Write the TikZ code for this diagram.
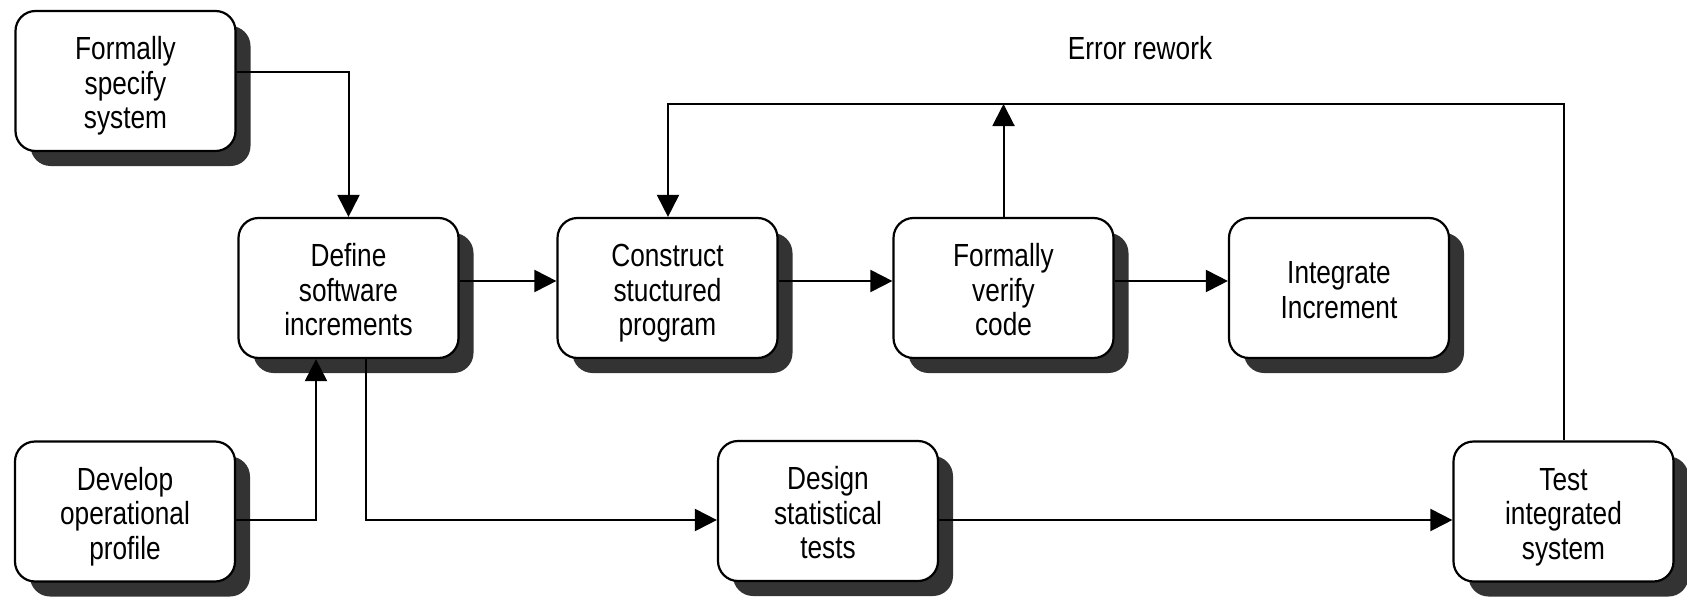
\documentclass[tikz,border=0pt]{standalone}
\usepackage{fontspec}
\setmainfont[FakeStretch=0.82]{Liberation Sans}
\usetikzlibrary{arrows.meta,shadows}
\definecolor{shadowgray}{HTML}{333333}
\newcommand{\boxtext}[1]{\raisebox{-12.5pt}[0pt][0pt]{\begin{tabular}{@{}c@{}}#1\end{tabular}}}
\begin{document}
\begin{tikzpicture}[x=1pt,y=-1pt,
  box/.style={draw, line width=2.2pt, rounded corners=20pt, fill=white,
    minimum width=220pt, minimum height=140pt, align=center, inner sep=0pt,
    font=\fontsize{32}{34.5}\selectfont,
    general shadow={fill=shadowgray, shadow xshift=15pt, shadow yshift=-15pt}},
  arr/.style={line width=2pt, -{Triangle[length=22pt,width=22pt]}},
  lbl/.style={font=\fontsize{32}{34.5}\selectfont}]
\useasboundingbox (0,0) rectangle (1687,597);
\node[box] (b1) at (125.5,81) {\boxtext{Formally\\specify\\system}};
\node[box] (b2) at (348.5,288) {\boxtext{Define\\software\\increments}};
\node[box] (b3) at (667.5,288) {\boxtext{Construct\\stuctured\\program}};
\node[box] (b4) at (1003.5,288) {\boxtext{Formally\\verify\\code}};
\node[box] (b5) at (1339,288) {\boxtext{Integrate\\Increment}};
\node[box] (b6) at (125,511.5) {\boxtext{Develop\\operational\\profile}};
\node[box] (b7) at (828,511) {\boxtext{Design\\statistical\\tests}};
\node[box] (b8) at (1563.5,511.5) {\boxtext{Test\\integrated\\system}};
\node[lbl] (er) at (1140,48) {Error rework};
\coordinate (rw) at (1564,104);
\coordinate (lw) at (668,104);
\draw[arr] (b1.east |- 0,72) -| (b2.north);
\draw[arr] (b2.east |- 0,281) -- (b3.west |- 0,281);
\draw[arr] (b3.east |- 0,281) -- (b4.west |- 0,281);
\draw[arr] (b4.east |- 0,281) -- (b5.west |- 0,281);
\draw[arr] (b6.east |- 0,520) -| (b2.south -| 316,0);
\draw[arr] (b2.south -| 366,0) |- (b7.west |- 0,520);
\draw[arr] (b7.east |- 0,520) -- (b8.west |- 0,520);
\draw[arr] (b8.north -| rw) -- (rw) -- (lw) -- (b3.north -| lw);
\draw[arr] (b4.north) -- (b4.north |- lw);
\end{tikzpicture}
\end{document}
